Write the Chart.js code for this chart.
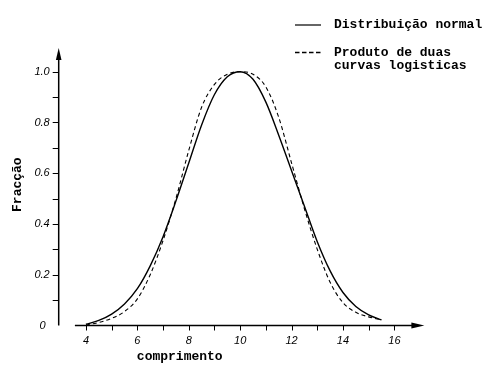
<!DOCTYPE html>
<html>
<head>
<meta charset="utf-8">
<script src="https://cdn.jsdelivr.net/npm/chart.js@4.4.1/dist/chart.umd.min.js"></script>
<style>
  html, body { margin: 0; padding: 0; background: #fff; }
  #wrap { width: 500px; height: 369px; position: relative; }
</style>
</head>
<body>
<div id="wrap"><canvas id="chart"></canvas></div>
<script>
// comprimento (eixo x)
const comprimento = [4, 4.5, 5, 5.5, 6, 6.5, 7, 7.5, 8, 8.5, 9, 9.5, 10,
  10.5, 11, 11.5, 12, 12.5, 13, 13.5, 14, 14.5, 15, 15.5];

// Distribuição normal (linha contínua)
const normal = [0.005, 0.02, 0.045, 0.085, 0.145, 0.235, 0.35, 0.49, 0.64, 0.79, 0.91, 0.98, 1.0,
  0.97, 0.88, 0.75, 0.61, 0.47, 0.33, 0.215, 0.13, 0.075, 0.042, 0.022];

// Produto de duas curvas logisticas (tracejado)
const logistica = [0.002, 0.012, 0.028, 0.055, 0.105, 0.2, 0.335, 0.5, 0.69, 0.86, 0.95, 0.99, 1.0,
  0.99, 0.94, 0.82, 0.64, 0.46, 0.3, 0.17, 0.09, 0.052, 0.034, 0.022];

const xTicks = [4, 6, 8, 10, 12, 14, 16];
const xMinor = [4, 5, 6, 7, 8, 9, 10, 11, 12, 13, 14, 15, 16];
const yTicks = [0, 0.2, 0.4, 0.6, 0.8, 1.0];
const yMinor = [0.1, 0.2, 0.3, 0.4, 0.5, 0.6, 0.7, 0.8, 0.9, 1.0];

const legendLabels = ['Distribuição normal', ['Produto de duas', 'curvas logisticas']];
const xTitle = 'comprimento';
const yTitle = 'Fracção';

const mono = '"Liberation Mono", "DejaVu Sans Mono", monospace';
const sans = '"Liberation Sans", Arial, sans-serif';

// eixos com setas, marcas, legenda desenhados a partir das escalas
const axesPlugin = {
  id: 'axesPlugin',
  afterDraw(chart) {
    const ctx = chart.ctx;
    const xs = chart.scales.x, ys = chart.scales.y;
    const y0 = ys.getPixelForValue(0);
    const yAxisX = xs.getPixelForValue(xs.min);
    ctx.save();
    ctx.strokeStyle = '#000';
    ctx.fillStyle = '#000';
    ctx.lineWidth = 1.5;

    // eixo x
    const xStart = xs.getPixelForValue(3.57);
    const xEnd = xs.getPixelForValue(16.7);
    ctx.beginPath();
    ctx.moveTo(xStart, y0);
    ctx.lineTo(xEnd, y0);
    ctx.stroke();
    ctx.beginPath();
    ctx.moveTo(xEnd + 12, y0);
    ctx.lineTo(xEnd - 1, y0 - 3);
    ctx.lineTo(xEnd - 1, y0 + 3);
    ctx.closePath();
    ctx.fill();

    // eixo y
    const yTop = ys.getPixelForValue(1.05);
    ctx.beginPath();
    ctx.moveTo(yAxisX, y0);
    ctx.lineTo(yAxisX, yTop);
    ctx.stroke();
    ctx.beginPath();
    ctx.moveTo(yAxisX, yTop - 11);
    ctx.lineTo(yAxisX - 2.8, yTop + 1);
    ctx.lineTo(yAxisX + 2.8, yTop + 1);
    ctx.closePath();
    ctx.fill();

    // marcas
    ctx.lineWidth = 1;
    xMinor.forEach(v => {
      const px = Math.round(xs.getPixelForValue(v)) + 0.5;
      ctx.beginPath();
      ctx.moveTo(px, y0);
      ctx.lineTo(px, y0 + 5);
      ctx.stroke();
    });
    yMinor.forEach(v => {
      const py = Math.round(ys.getPixelForValue(v)) + 0.5;
      ctx.beginPath();
      ctx.moveTo(yAxisX - 6, py);
      ctx.lineTo(yAxisX, py);
      ctx.stroke();
    });

    // rótulos
    ctx.font = 'italic 11px ' + sans;
    ctx.textAlign = 'center';
    ctx.textBaseline = 'middle';
    xTicks.forEach(v => ctx.fillText(String(v), xs.getPixelForValue(v), y0 + 15));
    ctx.textAlign = 'right';
    yTicks.forEach(v => {
      const t = v === 0 ? '0' : v.toFixed(1);
      ctx.fillText(t, v === 0 ? yAxisX - 13 : yAxisX - 9, ys.getPixelForValue(v));
    });

    // títulos dos eixos
    ctx.font = 'bold 13px ' + mono;
    ctx.textAlign = 'center';
    ctx.fillText(xTitle, xs.getPixelForValue(7.65), y0 + 31);
    ctx.save();
    ctx.translate(18, ys.getPixelForValue(0.555));
    ctx.rotate(-Math.PI / 2);
    ctx.fillText(yTitle, 0, 0);
    ctx.restore();

    // legenda
    ctx.textAlign = 'left';
    ctx.lineWidth = 1.2;
    ctx.beginPath();
    ctx.moveTo(295, 25);
    ctx.lineTo(321, 25);
    ctx.stroke();
    ctx.setLineDash([4.5, 2.5]);
    ctx.lineWidth = 1.6;
    ctx.beginPath();
    ctx.moveTo(295, 52.5);
    ctx.lineTo(322, 52.5);
    ctx.stroke();
    ctx.setLineDash([]);
    ctx.fillText(legendLabels[0], 334, 25);
    ctx.fillText(legendLabels[1][0], 334, 52.5);
    ctx.fillText(legendLabels[1][1], 334, 66);
    ctx.restore();
  }
};

new Chart(document.getElementById('chart'), {
  type: 'line',
  data: {
    datasets: [
      {
        label: legendLabels[0],
        data: comprimento.map((x, i) => ({ x: x, y: normal[i] })),
        borderColor: '#000',
        borderWidth: 1.4,
        pointRadius: 0,
        cubicInterpolationMode: 'monotone',
        fill: false
      },
      {
        label: legendLabels[1].join(' '),
        data: comprimento.map((x, i) => ({ x: x, y: logistica[i] })),
        borderColor: '#000',
        borderWidth: 1.1,
        borderDash: [4, 3],
        pointRadius: 0,
        cubicInterpolationMode: 'monotone',
        fill: false
      }
    ]
  },
  options: {
    responsive: true,
    maintainAspectRatio: false,
    animation: false,
    layout: { padding: { left: 58.7, right: 72.2, top: 46.3, bottom: 43.5 } },
    scales: {
      x: { type: 'linear', min: 2.94, max: 17.3, display: false },
      y: { min: 0, max: 1.1, display: false }
    },
    plugins: {
      legend: { display: false },
      tooltip: { enabled: false }
    }
  },
  plugins: [axesPlugin]
});
</script>
</body>
</html>
